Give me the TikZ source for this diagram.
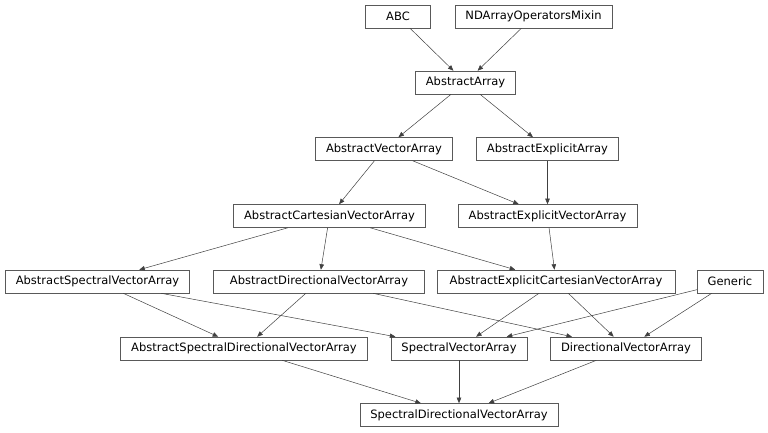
\documentclass[tikz,border=0pt]{standalone}
\usepackage{fontspec}
\setmainfont{DejaVu Sans}
\usepackage{tikz}
\usetikzlibrary{arrows.meta}

\begin{document}
\begin{tikzpicture}[x=1pt, y=-1pt, every node/.style={font=\fontsize{11.5}{13}\selectfont}, >={Triangle[length=5.5pt,width=4.5pt]},
  cls/.style={draw=black!65, line width=0.6pt, inner xsep=10.5pt, inner ysep=0pt, minimum width=65pt, minimum height=23pt},
  inh/.style={->, draw=black!75, line width=0.5pt}]
	\useasboundingbox (0,0) rectangle (768,432);
	\node[cls] (abc) at (398,16.5) {ABC};
	\node[cls] (mixin) at (533.5,16.5) {NDArrayOperatorsMixin};
	\node[cls] (arr) at (465.5,82.5) {AbstractArray};
	\node[cls] (vec) at (384,149) {AbstractVectorArray};
	\node[cls] (expl) at (547.5,149) {AbstractExplicitArray};
	\node[cls] (cart) at (329.5,216) {AbstractCartesianVectorArray};
	\node[cls] (explvec) at (547.5,216) {AbstractExplicitVectorArray};
	\node[cls] (spec) at (97.5,281.5) {AbstractSpectralVectorArray};
	\node[cls, minimum width=211pt] (dir) at (319,281.5) {AbstractDirectionalVectorArray};
	\node[cls, minimum width=238pt] (explcart) at (556,281.5) {AbstractExplicitCartesianVectorArray};
	\node[cls] (gen) at (730,281.5) {Generic};
	\node[cls] (specdir) at (244,348.5) {AbstractSpectralDirectionalVectorArray};
	\node[cls] (specarr) at (459,348.5) {SpectralVectorArray};
	\node[cls] (dirarr) at (626,348.5) {DirectionalVectorArray};
	\node[cls] (final) at (459,415) {SpectralDirectionalVectorArray};
	\draw[inh] (abc) -- (arr);
	\draw[inh] (mixin) -- (arr);
	\draw[inh] (arr) -- (vec);
	\draw[inh] (arr) -- (expl);
	\draw[inh] (vec) -- (cart);
	\draw[inh] (vec) -- (explvec);
	\draw[inh] (expl) -- (explvec);
	\draw[inh] (cart) -- (spec);
	\draw[inh] (cart) -- (dir);
	\draw[inh] (cart) -- (explcart);
	\draw[inh] (explvec) -- (explcart);
	\draw[inh] (spec) -- (specdir);
	\draw[inh] (spec) -- (specarr);
	\draw[inh] (dir) -- (specdir);
	\draw[inh] (dir) -- (dirarr);
	\draw[inh] (explcart) -- (specarr);
	\draw[inh] (explcart) -- (dirarr);
	\draw[inh] (gen) -- (specarr);
	\draw[inh] (gen) -- (dirarr);
	\draw[inh] (specdir) -- (final);
	\draw[inh] (specarr) -- (final);
	\draw[inh] (dirarr) -- (final);
\end{tikzpicture}
\end{document}
